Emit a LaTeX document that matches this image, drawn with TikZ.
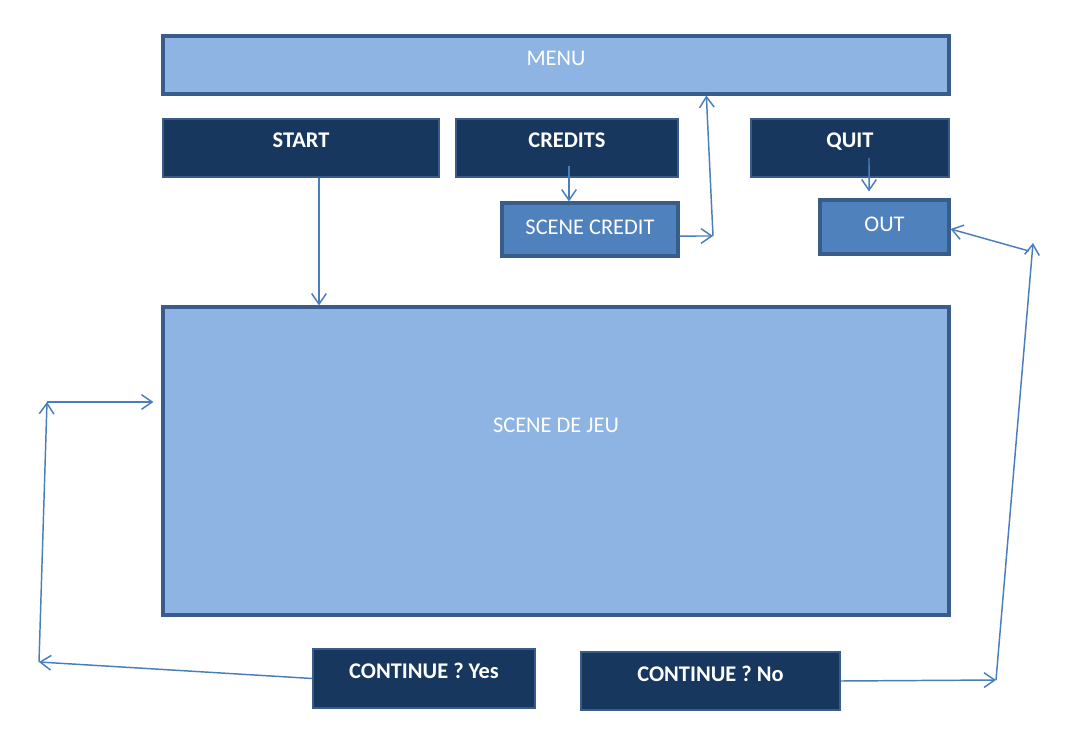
\documentclass[tikz,border=0pt]{standalone}
\usepackage{fontspec}
\setmainfont{Carlito}
\usetikzlibrary{arrows.meta}
\definecolor{menufill}{HTML}{8EB4E3}
\definecolor{darkfill}{HTML}{17375E}
\definecolor{midfill}{HTML}{4F81BD}
\definecolor{rim}{HTML}{385D8A}
\definecolor{linkblue}{HTML}{4A7EBB}
\tikzset{
  lightblock/.style = {rectangle, draw=rim, line width=2.3pt, fill=menufill, text=white, inner sep=0pt, font=\fontsize{16.8}{20}\selectfont, text height=10.8pt},
  midblock/.style = {lightblock, fill=midfill},
  darkblock/.style = {rectangle, draw=rim, line width=1.2pt, fill=darkfill, text=white, inner sep=0pt, font=\fontsize{16.8}{20}\selectfont\bfseries, text height=10.8pt, minimum height=43.5pt},
  arrow/.style = {draw=linkblue, line width=1.1pt, -{Straight Barb[length=8pt, width=11pt]}},
}
\begin{document}
\begin{tikzpicture}[x=0.75pt, y=-0.75pt]

  \useasboundingbox (0,0) rectangle (1089,756);

  \node (menu) [lightblock, minimum width=589.5pt, minimum height=43.5pt, text depth=10.5pt] at (556,65) {MENU};
  \node (start) [darkblock, minimum width=207pt, text depth=12pt] at (301,148) {START};
  \node (credits) [darkblock, minimum width=166.5pt, text depth=12pt] at (567,148) {CREDITS};
  \node (quit) [darkblock, minimum width=148.5pt, text depth=12pt] at (850,148) {QUIT};
  \node (scredit) [midblock, minimum width=132pt, minimum height=39.75pt, text depth=4pt] at (590,229.5) {SCENE CREDIT};
  \node (out) [midblock, minimum width=96.75pt, minimum height=40.5pt, text depth=4.5pt] at (884.5,227) {OUT};
  \node (jeu) [lightblock, minimum width=589.5pt, minimum height=231pt, text depth=54pt] at (556,461) {SCENE DE JEU};
  \node (yes) [darkblock, minimum width=166.5pt, minimum height=44.25pt, text depth=11pt] at (424,678.5) {CONTINUE ? Yes};
  \node (no) [darkblock, minimum width=194.25pt, text depth=10.5pt] at (710.5,681) {CONTINUE ? No};

  \coordinate (c1) at (713,236);
  \coordinate (c2) at (1029,251);
  \coordinate (c3) at (1033,243);
  \coordinate (c4) at (996,680);
  \coordinate (c5) at (39,662);
  \coordinate (c6) at (47,402);

  \draw [arrow] ([xshift=13.5pt]start.south) -- ([xshift=13.5pt]start.south |- jeu.north);
  \draw [arrow] ([xshift=1.5pt, yshift=9pt]credits.south) -- ([xshift=1.5pt]scredit.north -| credits.south);
  \draw [arrow] ([xshift=14.25pt, yshift=15pt]quit.south) -- ([xshift=-11.6pt, yshift=5.25pt]out.north);
  \draw [arrow] ([yshift=-4.9pt]scredit.east) -- (c1);
  \draw [arrow] (c1) -- ([xshift=-5pt]c1 |- menu.south);
  \draw [arrow] (c2) -- ([yshift=-1.5pt]out.east);
  \draw [arrow] (no.east) -- (c4);
  \draw [arrow] (c4) -- (c3);
  \draw [arrow] (yes.west) -- (c5);
  \draw [arrow] (c5) -- (c6);
  \draw [arrow] (c6) -- ([xshift=-6pt]jeu.west |- c6);

\end{tikzpicture}
\end{document}
